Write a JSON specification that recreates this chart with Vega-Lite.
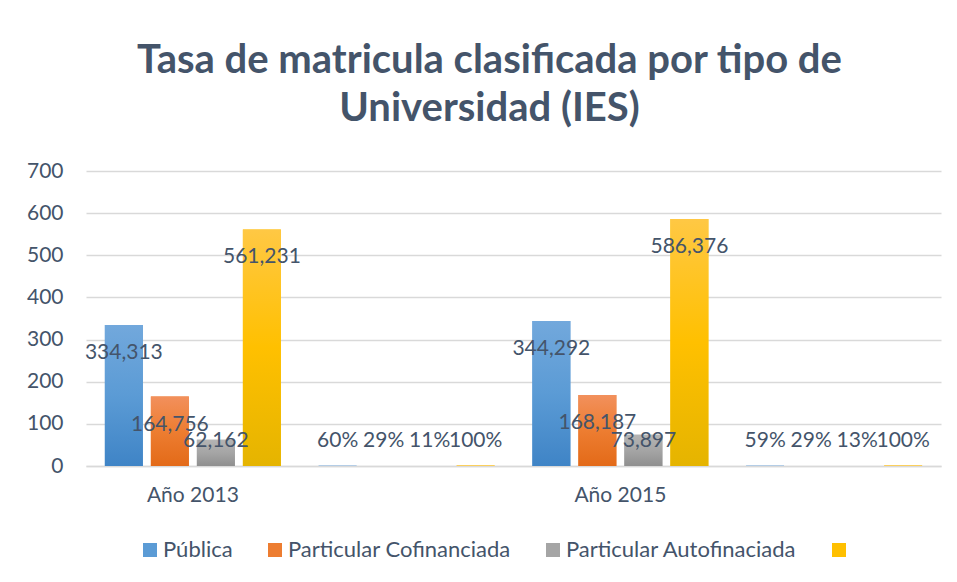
{
  "$schema": "https://vega.github.io/schema/vega-lite/v6.json",
  "width": 855,
  "height": 295,
  "autosize": "none",
  "padding": {"left": 86, "top": 171, "right": 16, "bottom": 116},
  "background": "white",
  "title": {
    "text": ["Tasa de matricula clasificada por tipo de", "Universidad (IES)"],
    "font": "Lato",
    "fontSize": 40,
    "fontWeight": "bold",
    "color": "#44546A",
    "anchor": "middle",
    "dx": -24,
    "offset": 31,
    "lineHeight": 48
  },
  "config": {
    "view": {"stroke": null},
    "font": "Lato",
    "axis": {"labelFont": "Lato", "labelColor": "#44546A", "labelFontSize": 21, "ticks": false, "title": null}
  },
  "data": {
    "values": [
      {"cat": "Año 2013", "serie": "Pública", "v": 334.313, "lbl": "334,313"},
      {"cat": "Año 2013", "serie": "Particular Cofinanciada", "v": 164.756, "lbl": "164,756"},
      {"cat": "Año 2013", "serie": "Particular Autofinaciada", "v": 62.162, "lbl": "62,162"},
      {"cat": "Año 2013", "serie": "Total", "v": 561.231, "lbl": "561,231"},
      {"cat": "Año 2013 %", "serie": "Pública", "v": 0.60, "lbl": "60%"},
      {"cat": "Año 2013 %", "serie": "Particular Cofinanciada", "v": 0.29, "lbl": "29%"},
      {"cat": "Año 2013 %", "serie": "Particular Autofinaciada", "v": 0.11, "lbl": "11%"},
      {"cat": "Año 2013 %", "serie": "Total", "v": 1.0, "lbl": "100%"},
      {"cat": "Año 2015", "serie": "Pública", "v": 344.292, "lbl": "344,292"},
      {"cat": "Año 2015", "serie": "Particular Cofinanciada", "v": 168.187, "lbl": "168,187"},
      {"cat": "Año 2015", "serie": "Particular Autofinaciada", "v": 73.897, "lbl": "73,897"},
      {"cat": "Año 2015", "serie": "Total", "v": 586.376, "lbl": "586,376"},
      {"cat": "Año 2015 %", "serie": "Pública", "v": 0.59, "lbl": "59%"},
      {"cat": "Año 2015 %", "serie": "Particular Cofinanciada", "v": 0.29, "lbl": "29%"},
      {"cat": "Año 2015 %", "serie": "Particular Autofinaciada", "v": 0.13, "lbl": "13%"},
      {"cat": "Año 2015 %", "serie": "Total", "v": 1.0, "lbl": "100%"}
    ]
  },
  "encoding": {
    "x": {
      "field": "cat", "type": "nominal",
      "scale": {"domain": ["Año 2013", "Año 2013 %", "Año 2015", "Año 2015 %"], "paddingInner": 0, "paddingOuter": 0},
      "axis": {"labelAngle": 0, "labelExpr": "indexof(datum.label, '%') >= 0 ? '' : datum.label", "domainColor": "#D9D9D9", "domainWidth": 1.5, "labelPadding": 18}
    },
    "xOffset": {
      "field": "serie", "type": "nominal",
      "scale": {"domain": ["Pública", "Particular Cofinanciada", "Particular Autofinaciada", "Total"], "paddingInner": 0.174, "paddingOuter": 0.41}
    }
  },
  "layer": [
    {
      "mark": {"type": "bar"},
      "encoding": {
        "y": {
          "field": "v", "type": "quantitative",
          "scale": {"domain": [0, 700], "nice": false},
          "axis": {"values": [0, 100, 200, 300, 400, 500, 600, 700], "domain": false, "gridColor": "#D9D9D9", "gridWidth": 1.5, "labelPadding": 23}
        },
        "color": {
          "field": "serie", "type": "nominal",
          "scale": {"domain": ["Pública", "Particular Cofinanciada", "Particular Autofinaciada", "Total"], "range": ["#5B9BD5", "#ED7D31", "#A5A5A5", "#FFC000"]},
          "legend": {
            "orient": "none", "direction": "horizontal", "legendX": 53, "legendY": 368, "title": null,
            "symbolType": "square", "symbolSize": 196, "symbolStrokeWidth": 0,
            "labelFont": "Lato", "labelFontSize": 22, "labelColor": "#44546A", "labelOffset": 2,
            "columnPadding": 31, "labelLimit": 400,
            "labelExpr": "datum.label == 'Total' ? '' : datum.label"
          }
        }
      }
    },
    {
      "transform": [{"filter": "datum.serie == 'Pública'"}],
      "mark": {"type": "bar", "fill": {"gradient": "linear", "x1": 0, "y1": 0, "x2": 0, "y2": 1, "stops": [{"offset": 0, "color": "#72A8DC"}, {"offset": 0.5, "color": "#5B9BD5"}, {"offset": 1, "color": "#3F84C6"}]}},
      "encoding": {"y": {"field": "v", "type": "quantitative"}}
    },
    {
      "transform": [{"filter": "datum.serie == 'Particular Cofinanciada'"}],
      "mark": {"type": "bar", "fill": {"gradient": "linear", "x1": 0, "y1": 0, "x2": 0, "y2": 1, "stops": [{"offset": 0, "color": "#F2905C"}, {"offset": 0.5, "color": "#ED7D31"}, {"offset": 1, "color": "#E36A18"}]}},
      "encoding": {"y": {"field": "v", "type": "quantitative"}}
    },
    {
      "transform": [{"filter": "datum.serie == 'Particular Autofinaciada'"}],
      "mark": {"type": "bar", "fill": {"gradient": "linear", "x1": 0, "y1": 0, "x2": 0, "y2": 1, "stops": [{"offset": 0, "color": "#B4B4B4"}, {"offset": 0.5, "color": "#A5A5A5"}, {"offset": 1, "color": "#8F8F8F"}]}},
      "encoding": {"y": {"field": "v", "type": "quantitative"}}
    },
    {
      "transform": [{"filter": "datum.serie == 'Total'"}],
      "mark": {"type": "bar", "fill": {"gradient": "linear", "x1": 0, "y1": 0, "x2": 0, "y2": 1, "stops": [{"offset": 0, "color": "#FFC844"}, {"offset": 0.5, "color": "#FFC000"}, {"offset": 1, "color": "#E5B400"}]}},
      "encoding": {"y": {"field": "v", "type": "quantitative"}}
    },
    {
      "transform": [{"filter": "datum.v >= 100"}],
      "mark": {"type": "text", "font": "Lato", "fontSize": 21, "color": "#44546A", "dy": 28, "baseline": "middle", "align": "center"},
      "encoding": {"y": {"field": "v", "type": "quantitative"}, "text": {"field": "lbl"}}
    },
    {
      "transform": [{"filter": "datum.v < 100"}],
      "mark": {"type": "text", "font": "Lato", "fontSize": 21, "color": "#44546A", "dy": -25, "baseline": "middle", "align": "center"},
      "encoding": {"y": {"datum": 0, "type": "quantitative"}, "text": {"field": "lbl"}}
    }
  ]
}
